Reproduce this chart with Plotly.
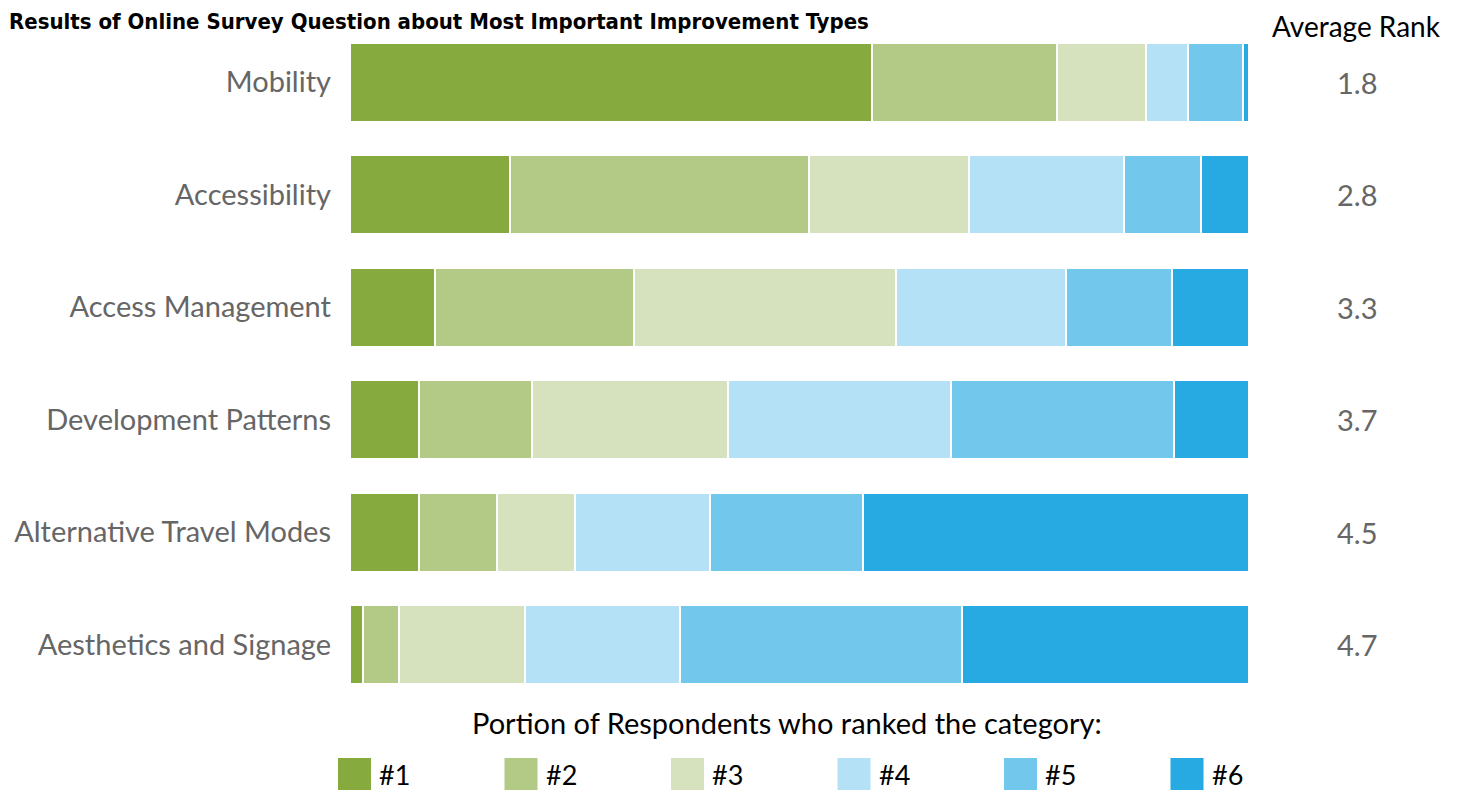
import plotly.graph_objects as go

# survey data (share of respondents, %)
categories = ["Mobility", "Accessibility", "Access Management",
              "Development Patterns", "Alternative Travel Modes", "Aesthetics and Signage"]
rank_names = ["#1", "#2", "#3", "#4", "#5", "#6"]
rank1 = [58.1, 17.8, 9.5, 7.7, 7.7, 1.4]
rank2 = [20.6, 33.3, 22.1, 12.5, 8.7, 4.0]
rank3 = [9.9, 17.8, 29.1, 21.8, 8.6, 14.1]
rank4 = [4.7, 17.2, 18.9, 24.8, 15.0, 17.2]
rank5 = [6.1, 8.6, 11.8, 24.9, 17.1, 31.3]
rank6 = [0.7, 5.3, 8.6, 8.3, 42.9, 31.9]
avg_rank = [1.8, 2.8, 3.3, 3.7, 4.5, 4.7]

colors = ["#87AA3E", "#B2CA86", "#D6E2BD", "#B5E1F6", "#72C7EC", "#27A9E1"]
series = [rank1, rank2, rank3, rank4, rank5, rank6]

FONT = "Lato"
OFF = 8  # page body margin
W, H = 1464 - OFF, 790 - OFF
L, T = 350 - OFF, 26 - OFF
pw, ph = 899, 675
R, B = W - L - pw, H - T - ph


def px(x):  # screen x -> paper
    return (x - OFF - L) / pw


def py(y):  # screen y -> paper
    return 1 - (y - OFF - T) / ph


fig = go.Figure()
for name, vals, col in zip(rank_names, series, colors):
    fig.add_trace(go.Bar(
        y=categories, x=vals, name=name, orientation="h",
        marker=dict(color=col, line=dict(color="white", width=2)),
        showlegend=False,
    ))

fig.update_layout(
    width=W, height=H,
    barmode="stack", barnorm="percent", bargap=0.30,
    margin=dict(l=L, r=R, t=T, b=B),
    plot_bgcolor="white", paper_bgcolor="white",
    font=dict(family=FONT, color="#666666", size=28),
    xaxis=dict(range=[0, 100], visible=False, fixedrange=True, automargin=False),
    yaxis=dict(autorange="reversed", showgrid=False, showline=False, ticks="", automargin=False,
               ticklabelstandoff=18, tickfont=dict(size=29, color="#666666")),
)

# title
fig.add_annotation(text="<b>Results of Online Survey Question about Most Important Improvement Types</b>",
                   xref="paper", yref="paper", x=px(8), y=py(8),
                   xanchor="left", yanchor="top", showarrow=False, borderpad=0,
                   font=dict(family="DejaVu Sans Condensed, Liberation Sans", size=22, color="black"))

# average rank column
fig.add_annotation(text="Average Rank", xref="paper", yref="paper",
                   x=px(1356), y=py(8), xanchor="center", yanchor="top",
                   showarrow=False, borderpad=0, font=dict(size=28, color="black"))
for cat, v in zip(categories, avg_rank):
    fig.add_annotation(text=f"{v:.1f}", xref="paper", yref="y", x=px(1357), y=cat,
                       xanchor="center", yanchor="middle", showarrow=False,
                       font=dict(size=29, color="#666666"))

# legend (drawn manually for large swatches)
fig.add_annotation(text="Portion of Respondents who ranked the category:", xref="paper", yref="paper",
                   x=px(787), y=py(722), xanchor="center", yanchor="middle",
                   showarrow=False, font=dict(size=29, color="black"))
for i, (name, col) in enumerate(zip(rank_names, colors)):
    x0 = 338 + 166.5 * i
    fig.add_shape(type="rect", xref="paper", yref="paper",
                  x0=px(x0), x1=px(x0 + 33), y0=py(795), y1=py(758),
                  fillcolor=col, line=dict(width=0))
    fig.add_annotation(text=name, xref="paper", yref="paper",
                       x=px(x0 + 39), y=py(774),
                       xanchor="left", yanchor="middle", showarrow=False,
                       font=dict(size=27, color="black"))

fig.write_html("out.html")
